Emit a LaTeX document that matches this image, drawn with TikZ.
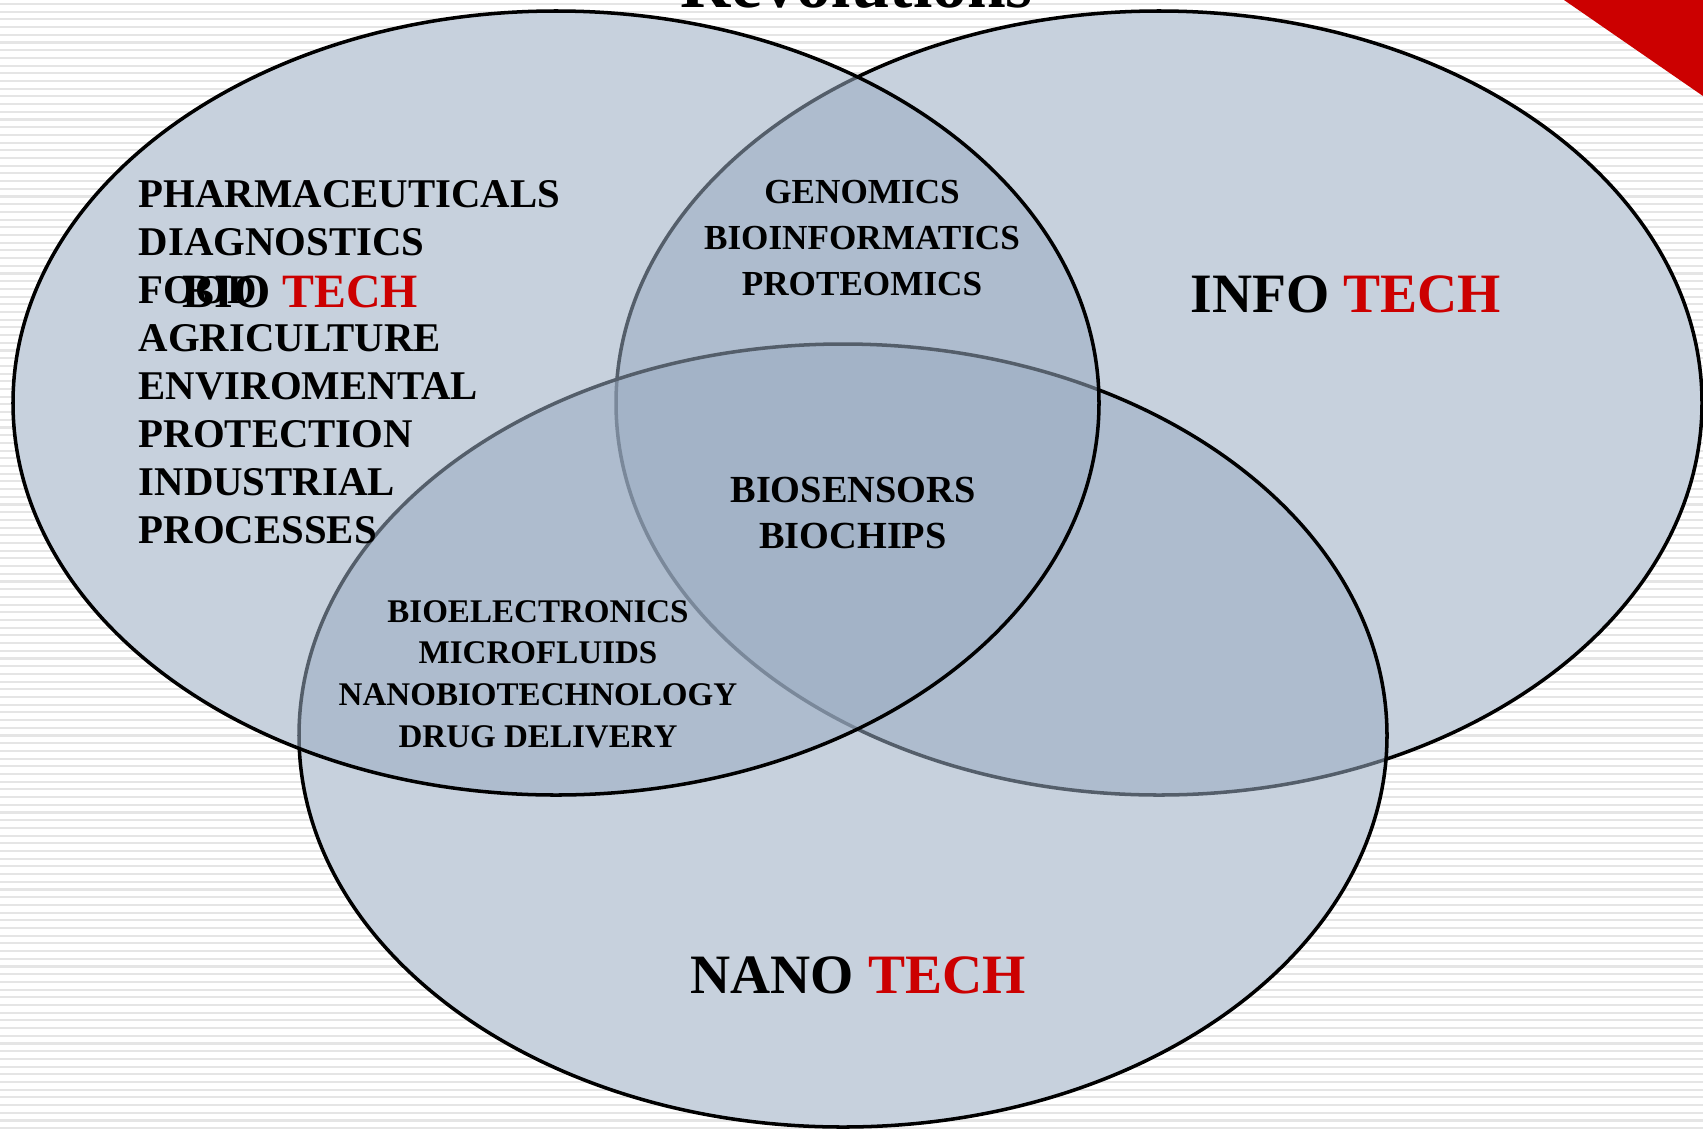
\documentclass[tikz,border=0pt]{standalone}
\usepackage{fontspec}
\setmainfont{Liberation Serif}
\usepackage{xcolor}
\usetikzlibrary{positioning}

\definecolor{setblue}{RGB}{154,172,194}
\definecolor{techred}{RGB}{204,0,0}

\begin{document}
\begin{tikzpicture}[
    x=0.01cm, y=-0.01cm,
    set/.style={draw=black, line width=1pt, fill=setblue, fill opacity=0.55},
    item/.style={inner sep=0, anchor=base west, font=\fontsize{11.6}{13.7}\selectfont\bfseries},
    overlap/.style={inner sep=0, anchor=base, font=\fontsize{10}{12}\selectfont\bfseries},
    title/.style={inner sep=0, anchor=base, font=\fontsize{15.8}{18}\selectfont\bfseries}
]
\useasboundingbox (0,0) rectangle (1703,1130);

% striped background
\fill[white] (0,0) rectangle (1703,1130);
\foreach \y in {4,11.7,...,1130}
    \draw[gray!20, line width=0.6pt] (0,\y) -- (1703,\y);

% the three sets
\fill[white] (1159,403) ellipse [x radius=543, y radius=392];
\fill[white] (843,735.5) ellipse [x radius=544, y radius=391.5];
\fill[white] (556,403) ellipse [x radius=543, y radius=392];
\draw[set] (1159,403) ellipse [x radius=543, y radius=392];
\draw[set] (843,735.5) ellipse [x radius=544, y radius=391.5];
\draw[set] (556,403) ellipse [x radius=543, y radius=392];

% bio list
\foreach \t [count=\i] in {PHARMACEUTICALS, DIAGNOSTICS, FOOD, AGRICULTURE,
    ENVIROMENTAL, PROTECTION, INDUSTRIAL, PROCESSES}
    \node[item] (bio\i) at (138, {207+48*(\i-1)}) {\t};

% set names
\node[title, anchor=base west, font=\fontsize{13.6}{16}\selectfont\bfseries] (biotech) at (182,307) {BIO \textcolor{techred}{TECH}};
\node[title] (infotech) at (1346,312) {INFO \textcolor{techred}{TECH}};
\node[title] (nanotech) at (858,993) {NANO \textcolor{techred}{TECH}};

% overlaps
\foreach \t [count=\i] in {GENOMICS, BIOINFORMATICS, PROTEOMICS}
    \node[overlap] (bioinfo\i) at (862, {203+46*(\i-1)}) {\t};
\foreach \t [count=\i] in {BIOSENSORS, BIOCHIPS}
    \node[overlap, font=\fontsize{10.9}{13}\selectfont\bfseries] (all\i) at (853, {502+46.6*(\i-1)}) {\t};
\foreach \t [count=\i] in {BIOELECTRONICS, MICROFLUIDS, NANOBIOTECHNOLOGY, DRUG DELIVERY}
    \node[overlap, font=\fontsize{9.4}{11}\selectfont\bfseries] (bionano\i) at (538, {622+41.7*(\i-1)}) {\t};

% page title and corner
\node[overlap, font=\fontsize{19.8}{22}\selectfont\bfseries] (heading) at (857,7) {Revolutions};
\fill[techred] (1564,0) -- (1703,0) -- (1703,96) -- cycle;
\end{tikzpicture}
\end{document}
